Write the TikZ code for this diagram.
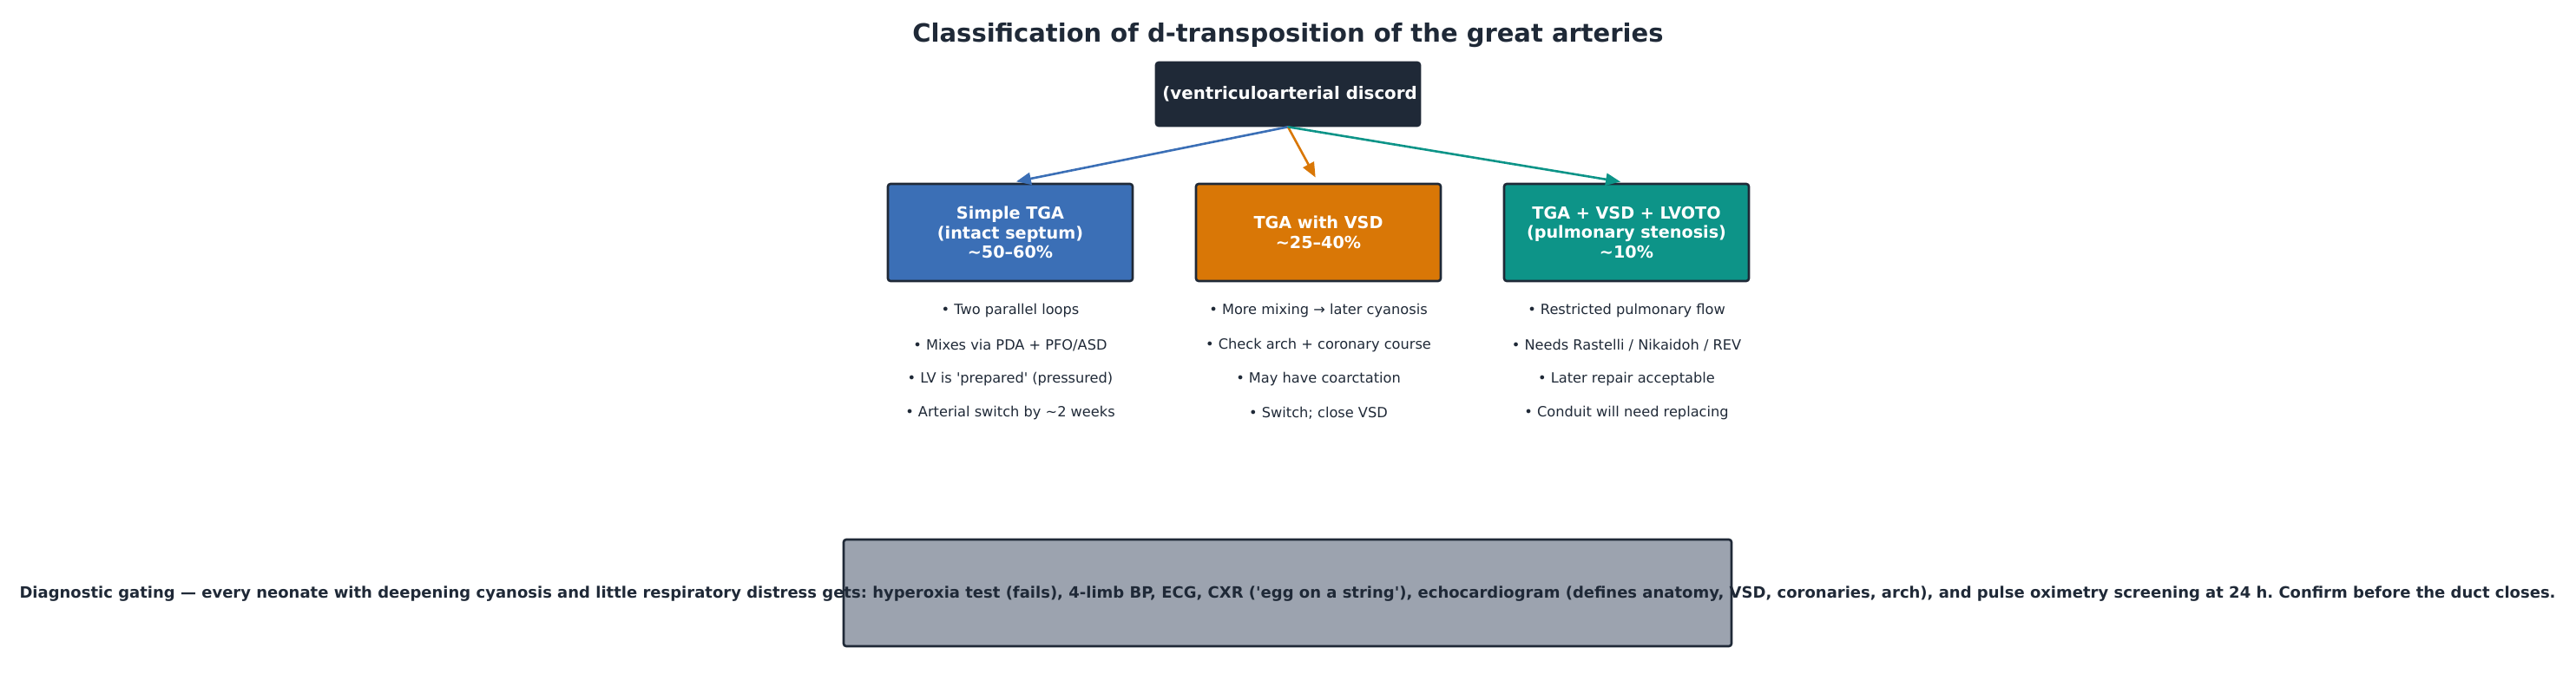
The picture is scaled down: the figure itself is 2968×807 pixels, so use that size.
\documentclass[tikz,border=0pt]{standalone}
\usepackage{fontspec}
\setmainfont{DejaVu Sans}
\usetikzlibrary{arrows.meta}
\frenchspacing
\definecolor{navy}{HTML}{1F2937}
\definecolor{cblue}{HTML}{3B6FB6}
\definecolor{corange}{HTML}{D97706}
\definecolor{cteal}{HTML}{0D9488}
\definecolor{cgrey}{HTML}{9CA3AF}
\begin{document}
\begin{tikzpicture}[x=0.5pt,y=-0.5pt,
  box/.style={draw=navy, line width=1.3pt, rounded corners=1.5pt, minimum width=141pt, minimum height=56pt, inner sep=0pt, text=white, font=\bfseries\fontsize{9.6}{11.25}\selectfont, align=center},
  bul/.style={text=navy, font=\fontsize{8.1}{9.7}\selectfont, inner sep=0pt},
  arr/.style={line width=1.3pt, -{Triangle[length=8.5pt,width=7pt]}, shorten >=3.5pt}]
\useasboundingbox (0,0) rectangle (2968,807);
\node[font=\bfseries\fontsize{14.5}{17}\selectfont, text=navy] (title) at (1484,41) {Classification of d-transposition of the great arteries};
\node[box, fill=navy, minimum width=152pt, minimum height=36.5pt] (top) at (1484,108.5) {};
\node[anchor=west, inner sep=0pt, text=white, font=\bfseries\fontsize{9.9}{11.5}\selectfont] (toptext) at (1339,108.5) {(ventriculoarterial discord};
\node[box, fill=cblue] (simple) at (1164,268) {Simple TGA\\(intact septum)\\\textasciitilde50--60\%};
\node[box, fill=corange] (vsd) at (1519,268) {TGA with VSD\\\textasciitilde25--40\%};
\node[box, fill=cteal] (lvoto) at (1874,268) {TGA + VSD + LVOTO\\(pulmonary stenosis)\\\textasciitilde10\%};
\draw[arr, cblue] (top.south) -- (simple.north);
\draw[arr, corange] (top.south) -- (vsd.north);
\draw[arr, cteal] (top.south) -- (lvoto.north);
\node[bul] (s1) at (1164,358.5) {• Two parallel loops};
\node[bul] (s2) at (1164,398) {• Mixes via PDA + PFO/ASD};
\node[bul] (s3) at (1164,437.5) {• LV is \textquotesingle prepared\textquotesingle{} (pressured)};
\node[bul] (s4) at (1164,476.5) {• Arterial switch by \textasciitilde2 weeks};
\node[bul] (v1) at (1519,358.5) {• More mixing → later cyanosis};
\node[bul] (v2) at (1519,398) {• Check arch + coronary course};
\node[bul] (v3) at (1519,437.5) {• May have coarctation};
\node[bul] (v4) at (1519,476.5) {• Switch; close VSD};
\node[bul] (l1) at (1874,358.5) {• Restricted pulmonary flow};
\node[bul] (l2) at (1874,398) {• Needs Rastelli / Nikaidoh / REV};
\node[bul] (l3) at (1874,437.5) {• Later repair acceptable};
\node[bul] (l4) at (1874,476.5) {• Conduit will need replacing};
\node[box, fill=cgrey, minimum width=511.5pt, minimum height=61.5pt] (gate) at (1483.5,683.5) {};
\node[inner sep=0pt, text=navy, font=\bfseries\fontsize{9.0}{11}\selectfont] (gatetext) at (1483.5,684.5) {Diagnostic gating — every neonate with deepening cyanosis and little respiratory distress gets: hyperoxia test (fails), 4-limb BP, ECG, CXR (\textquotesingle egg on a string\textquotesingle), echocardiogram (defines anatomy, VSD, coronaries, arch), and pulse oximetry screening at 24 h. Confirm before the duct closes.};
\end{tikzpicture}
\end{document}
